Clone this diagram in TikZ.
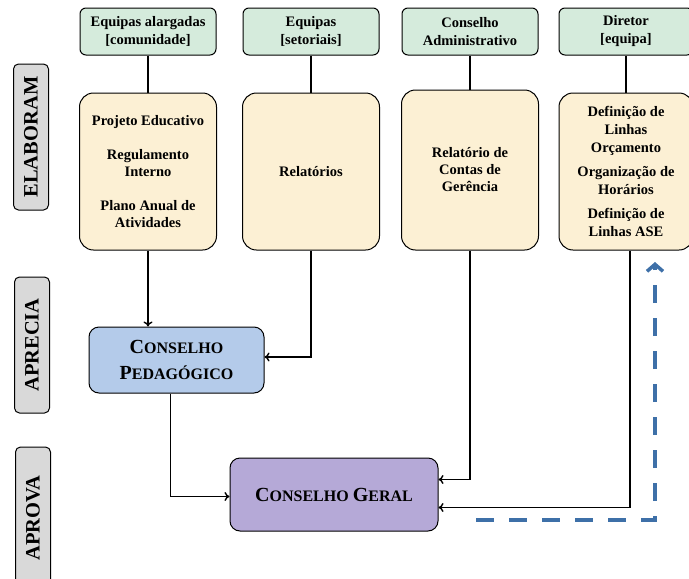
\documentclass[tikz,border=0pt]{standalone}
\usepackage{fontspec}
\setmainfont{Liberation Serif}
\usetikzlibrary{arrows.meta}

\definecolor{mintgreen}{HTML}{D5EBDC}
\definecolor{cream}{HTML}{FCF0D4}
\definecolor{labelgray}{HTML}{D9D9D9}
\definecolor{pedblue}{HTML}{B4CBEA}
\definecolor{geralpurple}{HTML}{B5A9D7}
\definecolor{dashblue}{HTML}{3E70A8}

% fake small caps
\newcommand{\fakesc}[2]{{\fontsize{20}{20}\selectfont #1}{\fontsize{16}{16}\selectfont #2}}

\tikzset{
  who/.style={draw, line width=1pt, rounded corners=6pt, fill=mintgreen, minimum width=136pt, minimum height=47pt, align=center, inner sep=2pt, font=\bfseries\fontsize{14.5}{18}\selectfont},
  doc/.style={draw, line width=1pt, rounded corners=14pt, fill=cream, minimum width=137pt, minimum height=157pt, align=center, inner sep=2pt, font=\bfseries\fontsize{14.5}{17}\selectfont},
  phase/.style={draw, line width=1pt, rounded corners=5pt, fill=labelgray, rotate=90, minimum height=35pt, font=\bfseries\fontsize{20.5}{20}\selectfont},
  council/.style={draw, line width=1pt, rounded corners=10pt, align=center, font=\bfseries\fontsize{16}{26}\selectfont},
  flow/.style={-{To[length=5pt,width=9pt]}, line width=1.4pt},
}

\begin{document}
\begin{tikzpicture}[x=1pt, y=-1pt]
  \useasboundingbox (0,0) rectangle (689,579);

  % phases
  \node[phase, minimum width=146pt] (elaboram) at (31,137) {ELABORAM};
  \node[phase, minimum width=136pt] (aprecia) at (32,345) {APRECIA};
  \node[phase, minimum width=142pt] (aprova) at (33,518) {APROVA};

  % who elaborates
  \node[who] (eqalarg) at (148,31.5) {Equipas alargadas\\{[comunidade]}};
  \node[who] (eqset) at (311,31.5) {Equipas\\{[setoriais]}};
  \node[who] (consadm) at (470,31.5) {Conselho\\Administrativo};
  \node[who, minimum width=134pt] (diretor) at (626,31.5) {Diretor\\{[equipa]}};

  % documents
  \node[doc] (projeto) at (148,171.5) {Projeto Educativo\\[17pt]Regulamento\\Interno\\[17pt]Plano Anual de\\Atividades};
  \node[doc] (relat) at (311,171.5) {Relatórios};
  \node[doc, minimum height=160pt] (contas) at (470,170) {Relatório de\\Contas de\\Gerência};
  \node[doc, minimum width=134pt, font=\bfseries\fontsize{14.5}{18}\selectfont] (definicao) at (626,171.5) {Definição de\\Linhas\\Orçamento\\[6pt]Organização de\\Horários\\[6pt]Definição de\\Linhas ASE};

  \draw[line width=1.4pt] (eqalarg) -- (projeto);
  \draw[line width=1.4pt] (eqset) -- (relat);
  \draw[line width=1.4pt] (consadm) -- (contas);
  \draw[line width=1.4pt] (diretor) -- (definicao);

  % councils
  \node[council, fill=pedblue, minimum width=175pt, minimum height=66pt] (pedag) at (176.5,360) {\fakesc{C}{ONSELHO}\\\fakesc{P}{EDAGÓGICO}};
  \node[council, fill=geralpurple, minimum width=208pt, minimum height=73pt] (geral) at (334,494.5) {\fakesc{C}{ONSELHO} \fakesc{G}{ERAL}};

  \draw[flow] (projeto.south) -- (projeto.south |- pedag.north);
  \draw[flow] (relat.south) |- ([yshift=3pt]pedag.east);
  \draw[flow] (contas.south) |- ([yshift=15pt]geral.east);
  \draw[flow] ([xshift=4pt]definicao.south) |- ([yshift=-13pt]geral.east);
  \draw[flow] ([xshift=-6pt]pedag.south) |- ([yshift=-2pt]geral.west);

  % dashed return arrow
  \coordinate (dashstart) at (476,520);
  \coordinate (dashcorner) at (655,520);
  \coordinate (dashtip) at (655,262);
  \draw[dashblue, line width=3.5pt, dash pattern=on 18pt off 15pt, -{Straight Barb[length=7pt,width=16pt]}] (dashstart) -- (dashcorner) -- (dashtip);
\end{tikzpicture}
\end{document}
